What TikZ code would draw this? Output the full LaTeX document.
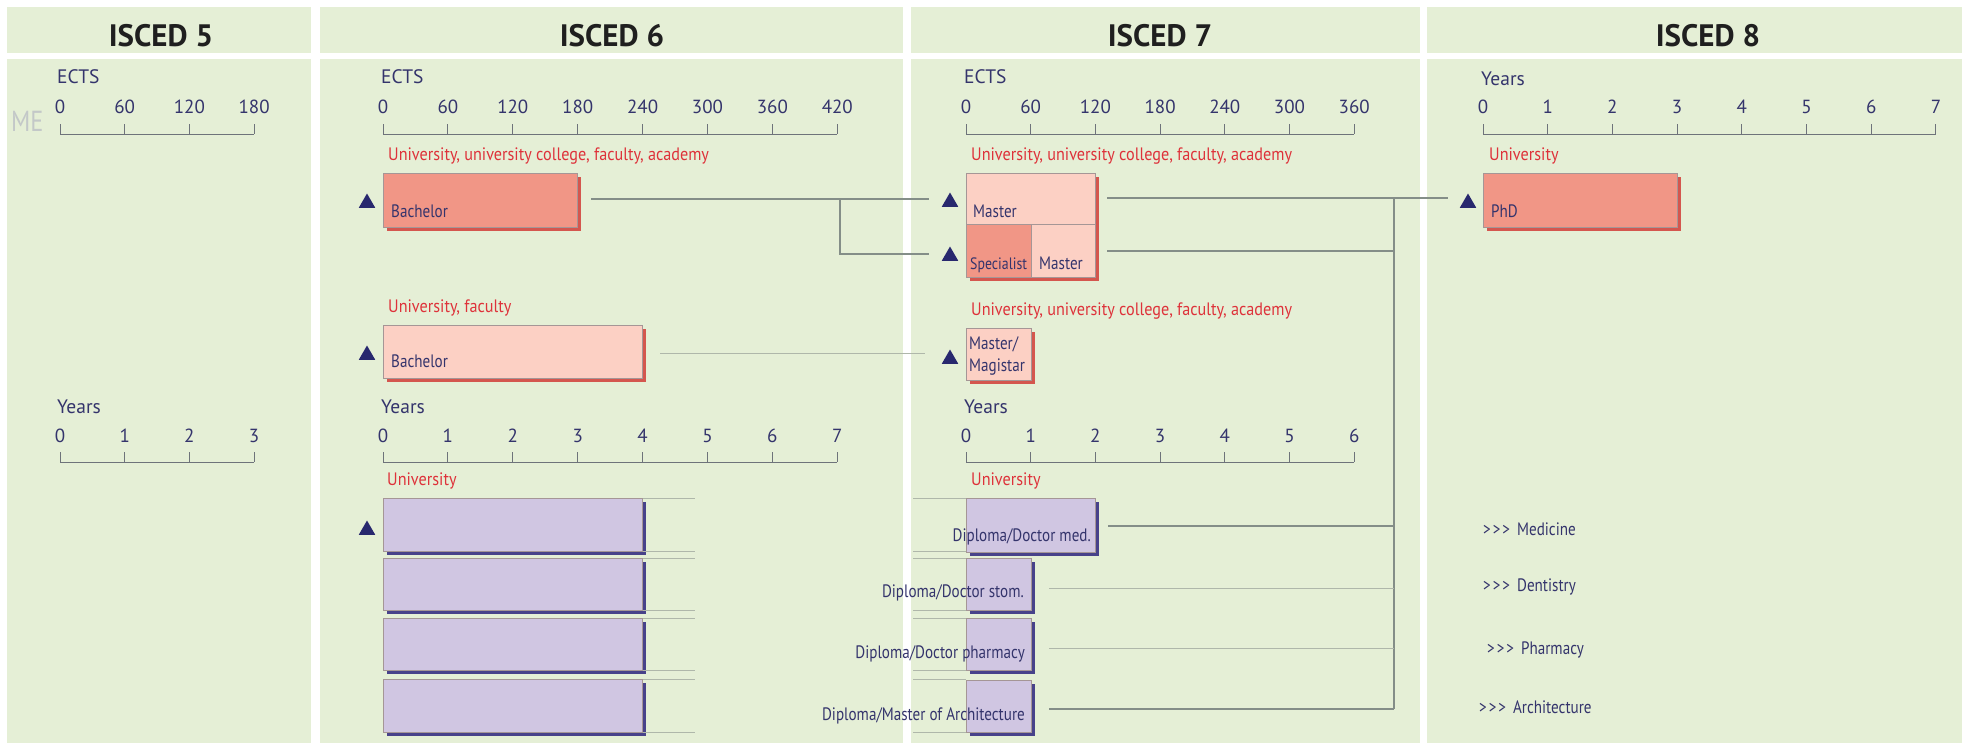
\documentclass[tikz,border=0pt]{standalone}
\usepackage{fontspec}
\setmainfont{PT Sans}
\newfontfamily\cond{PT Sans}[FakeStretch=0.84]
\newfontfamily\condw{PT Sans}[FakeStretch=0.9]
\usetikzlibrary{shapes.geometric,shadows}
\definecolor{panelg}{RGB}{229,239,214}
\definecolor{navy}{RGB}{52,52,108}
\definecolor{instred}{RGB}{222,50,58}
\definecolor{salD}{RGB}{241,150,134}
\definecolor{salL}{RGB}{252,208,196}
\definecolor{salS}{RGB}{212,86,78}
\definecolor{purp}{RGB}{208,198,226}
\definecolor{purpS}{RGB}{72,66,138}
\definecolor{trin}{RGB}{40,40,110}
\definecolor{lineg}{RGB}{132,142,136}
\definecolor{linel}{RGB}{175,183,170}
\definecolor{axisg}{RGB}{110,115,122}
\definecolor{megray}{RGB}{195,200,200}
\definecolor{edgeg}{RGB}{165,150,150}
\begin{document}
\begin{tikzpicture}[x=1pt,y=-1pt,
  hdr/.style={font=\fontsize{31}{31}\selectfont\bfseries, text={black!88}, inner sep=0},
  axlbl/.style={font=\fontsize{19.5}{19.5}\selectfont, text=navy, anchor=base west, inner sep=0},
  num/.style={font=\fontsize{19}{19}\selectfont, text=navy, anchor=base, inner sep=0},
  inst/.style={font=\condw\fontsize{18}{18}\selectfont, text=instred, anchor=base west, inner sep=0},
  blbl/.style={font=\cond\fontsize{18}{18}\selectfont, text=navy, anchor=base west, inner sep=0},
  dlbl/.style={font=\cond\fontsize{18}{18}\selectfont, text=navy, anchor=base east, inner sep=0},
  axis/.style={draw=axisg, line width=0.9pt},
  conn/.style={draw=lineg, line width=1.1pt},
  connl/.style={draw=linel, line width=1pt},
  boxbase/.style={rectangle, anchor=north west, inner sep=0, draw=edgeg, line width=0.6pt},
  boxsd/.style={boxbase, fill=salD, drop shadow={shadow xshift=4pt, shadow yshift=-4pt, fill=salS, opacity=1}},
  boxsl/.style={boxbase, fill=salL, drop shadow={shadow xshift=4pt, shadow yshift=-4pt, fill=salS, opacity=1}},
  boxp/.style={boxbase, fill=purp, drop shadow={shadow xshift=4pt, shadow yshift=-4pt, fill=purpS, opacity=1}},
  tri/.style={regular polygon, regular polygon sides=3, minimum size=19pt, inner sep=0, fill=trin}
]
\useasboundingbox (0,0) rectangle (1969,747);
\fill[white] (0,0) rectangle (1969,747);

% panels
\foreach \a/\b in {7/311, 320/903, 911/1420, 1427/1962}{
  \fill[panelg] (\a,7) rectangle (\b,53);
  \fill[panelg] (\a,59) rectangle (\b,743);
}

% headers
\node[hdr] (h5) at (161,36) {ISCED 5};
\node[hdr] (h6) at (612,36) {ISCED 6};
\node[hdr] (h7) at (1160,36) {ISCED 7};
\node[hdr] (h8) at (1708,36) {ISCED 8};

% ---------- axes ----------
% ISCED 5 ECTS
\node[axlbl] (e5l) at (57,83) {ECTS};
\foreach \i/\l in {0/0,1/60,2/120,3/180}{
  \node[num] (e5n\i) at (60+\i*64.7,113) {\l};
  \draw[axis] (60+\i*64.7,134) -- (60+\i*64.7,124);
}
\draw[axis] (60,134) -- (60+3*64.7,134);
% ISCED 5 Years
\node[axlbl] (y5l) at (57,413) {Years};
\foreach \i in {0,...,3}{
  \node[num] (y5n\i) at (60+\i*64.7,442) {\i};
  \draw[axis] (60+\i*64.7,462) -- (60+\i*64.7,452);
}
\draw[axis] (60,462) -- (60+3*64.7,462);
% ISCED 6 ECTS
\node[axlbl] (e6l) at (381,83) {ECTS};
\foreach \i/\l in {0/0,1/60,2/120,3/180,4/240,5/300,6/360,7/420}{
  \node[num] (e6n\i) at (383+\i*64.9,113) {\l};
  \draw[axis] (383+\i*64.9,134) -- (383+\i*64.9,124);
}
\draw[axis] (383,134) -- (383+7*64.9,134);
% ISCED 6 Years
\node[axlbl] (y6l) at (381,413) {Years};
\foreach \i in {0,...,7}{
  \node[num] (y6n\i) at (383+\i*64.9,442) {\i};
  \draw[axis] (383+\i*64.9,462) -- (383+\i*64.9,452);
}
\draw[axis] (383,462) -- (383+7*64.9,462);
% ISCED 7 ECTS
\node[axlbl] (e7l) at (964,83) {ECTS};
\foreach \i/\l in {0/0,1/60,2/120,3/180,4/240,5/300,6/360}{
  \node[num] (e7n\i) at (966+\i*64.7,113) {\l};
  \draw[axis] (966+\i*64.7,134) -- (966+\i*64.7,124);
}
\draw[axis] (966,134) -- (966+6*64.7,134);
% ISCED 7 Years
\node[axlbl] (y7l) at (964,413) {Years};
\foreach \i in {0,...,6}{
  \node[num] (y7n\i) at (966+\i*64.7,442) {\i};
  \draw[axis] (966+\i*64.7,462) -- (966+\i*64.7,452);
}
\draw[axis] (966,462) -- (966+6*64.7,462);
% ISCED 8 Years
\node[axlbl] (y8l) at (1481,85) {Years};
\foreach \i in {0,...,7}{
  \node[num] (y8n\i) at (1483+\i*64.7,113) {\i};
  \draw[axis] (1483+\i*64.7,134) -- (1483+\i*64.7,124);
}
\draw[axis] (1483,134) -- (1483+7*64.7,134);

% ME
\node[font=\cond\fontsize{29}{29}\selectfont, text=megray, anchor=base west, inner sep=0] (me) at (11,131) {ME};

% ---------- ISCED 6 ----------
\node[inst] (i6a) at (388,160) {University, university college, faculty, academy};
\node[boxsd, minimum width=194pt, minimum height=54pt] (bach1) at (383,173) {};
\node[blbl] (bach1l) at (391,217) {Bachelor};
\node[tri] (t6a) at (367,203) {};

\node[inst] (i6b) at (388,312) {University, faculty};
\node[boxsl, minimum width=259pt, minimum height=53pt] (bach2) at (383,325) {};
\node[blbl] (bach2l) at (391,367) {Bachelor};
\node[tri] (t6b) at (367,355) {};

\node[inst] (i6c) at (387,485) {University};
\node[boxp, minimum width=259pt, minimum height=53pt] (p6a) at (383,498) {};
\node[boxp, minimum width=259pt, minimum height=52pt] (p6b) at (383,558) {};
\node[boxp, minimum width=259pt, minimum height=52pt] (p6c) at (383,618) {};
\node[boxp, minimum width=259pt, minimum height=53pt] (p6d) at (383,679) {};
\node[tri] (t6c) at (367,530) {};

% ---------- ISCED 7 ----------
\node[inst] (i7a) at (971,160) {University, university college, faculty, academy};
\node[boxsl, minimum width=129pt, minimum height=51pt] (mtop) at (966,173) {};
\node[boxsd, minimum width=65pt, minimum height=53pt] (spec) at (966,224) {};
\node[boxsl, minimum width=64pt, minimum height=53pt] (mast2) at (1031,224) {};
\node[blbl] (mtopl) at (973,217) {Master};
\node[blbl, font=\cond\fontsize{16.5}{16.5}\selectfont] (specl) at (970,269) {Specialist};
\node[blbl] (mast2l) at (1039,269) {Master};
\node[tri] (tM) at (950,202) {};
\node[tri] (tS) at (950,256) {};

\node[inst] (i7b) at (971,315) {University, university college, faculty, academy};
\node[boxsl, minimum width=65pt, minimum height=52pt] (mag) at (966,328) {};
\node[blbl] (magl1) at (969,349) {Master/};
\node[blbl] (magl2) at (969,371) {Magistar};
\node[tri] (tG) at (950,359) {};

\node[inst] (i7c) at (971,485) {University};
\node[boxp, minimum width=129pt, minimum height=54pt] (p7a) at (966,498) {};
\node[boxp, minimum width=65pt, minimum height=52pt] (p7b) at (966,558) {};
\node[boxp, minimum width=65pt, minimum height=52pt] (p7c) at (966,618) {};
\node[boxp, minimum width=65pt, minimum height=52pt] (p7d) at (966,680) {};
\node[dlbl] (p7al) at (1091,541) {Diploma/Doctor med.};
\node[dlbl] (p7bl) at (1024,597) {Diploma/Doctor stom.};
\node[dlbl] (p7cl) at (1025,658) {Diploma/Doctor pharmacy};
\node[dlbl] (p7dl) at (1025,720) {Diploma/Master of Architecture};

% ---------- ISCED 8 ----------
\node[inst] (i8) at (1489,160) {University};
\node[boxsd, minimum width=194pt, minimum height=54pt] (phd) at (1483,173) {};
\node[blbl] (phdl) at (1491,217) {PhD};
\node[tri] (tP) at (1468,203) {};
\node[blbl] (f1) at (1483,535) {>\kern2pt>\kern2pt>\hspace{7pt}Medicine};
\node[blbl] (f2) at (1483,591) {>\kern2pt>\kern2pt>\hspace{7pt}Dentistry};
\node[blbl] (f3) at (1487,654) {>\kern2pt>\kern2pt>\hspace{7pt}Pharmacy};
\node[blbl] (f4) at (1479,713) {>\kern2pt>\kern2pt>\hspace{7pt}Architecture};

% ---------- connectors ----------
\coordinate (c1a) at (591,199);
\coordinate (c1b) at (929,199);
\coordinate (c1j) at (840,199);
\coordinate (c1c) at (929,254);
\draw[conn] (c1a) -- (c1b);
\draw[conn] (c1j) |- (c1c);
\coordinate (c2a) at (660,353);
\coordinate (c2b) at (925,353);
\draw[connl] (c2a) -- (c2b);

\coordinate (v1) at (1394,198);
\coordinate (v2) at (1394,709);
\coordinate (c3a) at (1107,198);
\coordinate (c3b) at (1448,198);
\coordinate (c4a) at (1107,251);
\coordinate (c5a) at (1108,526);
\coordinate (c6a) at (1049,588);
\coordinate (c7a) at (1049,648);
\coordinate (c8a) at (1049,709);
\draw[conn] (c3a) -- (c3b);
\draw[conn] (v1) -- (v2);
\draw[conn] (c4a) -- (c4a -| v1);
\draw[conn] (c5a) -- (c5a -| v1);
\draw[connl] (c6a) -- (c6a -| v1);
\draw[connl] (c7a) -- (c7a -| v1);
\draw[conn] (c8a) -- (c8a -| v1);

% edge extensions of the integrated programmes
\foreach \y in {498,551,558,610,618,670,679,732}{
  \draw[connl] (643,\y) -- (695,\y);
  \draw[connl] (913,\y) -- (966,\y);
}
\end{tikzpicture}
\end{document}
